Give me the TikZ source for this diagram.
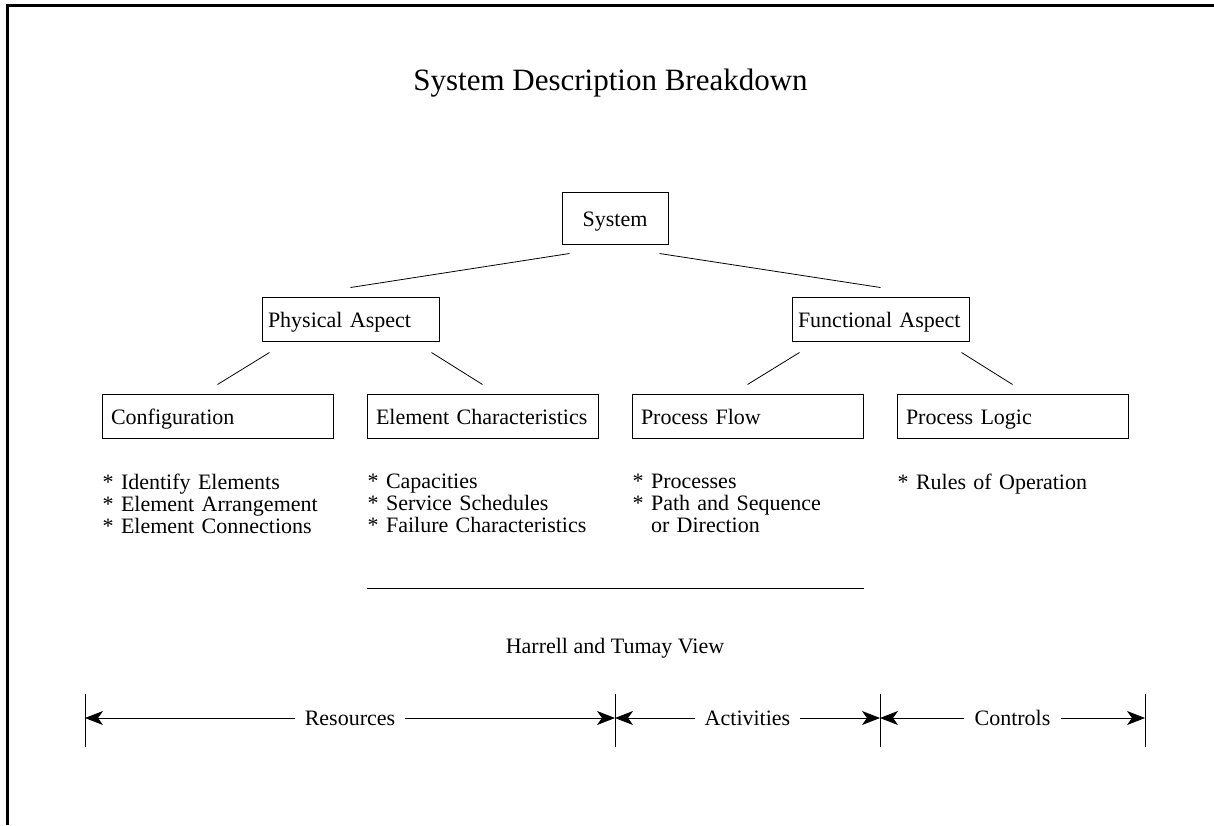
\documentclass[tikz,border=0pt]{standalone}
\usepackage{fontspec}
\setmainfont{Liberation Serif}
\usetikzlibrary{arrows.meta}

\begin{document}
\begin{tikzpicture}[x=1pt,y=-1pt,
  txt/.style={font=\fontsize{22}{22}\selectfont},
  topbox/.style={txt,draw,line width=1,minimum width=106,minimum height=52,inner sep=0,text height=16,text depth=0},
  aspectbox/.style={txt,draw,line width=1,text width=165,align=left,inner xsep=6,minimum height=44,inner ysep=0,text height=16,text depth=0},
  subbox/.style={txt,draw,line width=1,text width=213,align=left,inner xsep=9,minimum height=44,inner ysep=0,text height=16,text depth=0},
  notes/.style={txt,anchor=north west,text width=240,align=left,inner sep=0},
  branch/.style={line width=0.8},
  tick/.style={line width=0.8},
  span/.style={line width=0.8,-{Stealth[length=18,width=14,inset=5]}}]
\useasboundingbox (0,0) rectangle (1214,825);

%Frame
\draw [line width=3] (7.5,825) -- (7.5,5.5) -- (1214,5.5);

% Text Node
\node (title) at (610.5,83) [font=\fontsize{31}{31}\selectfont] {System Description Breakdown};

% Boxes
\node (sys) at (615,218) [topbox] {System};
\node (phys) at (350.5,319) [aspectbox] {Physical Aspect};
\node (func) at (880.5,319) [aspectbox] {Functional Aspect};
\node (conf) at (217.5,416) [subbox] {Configuration};
\node (elem) at (482.5,416) [subbox] {Element Characteristics};
\node (flow) at (747.5,416) [subbox] {Process Flow};
\node (logic) at (1012.5,416) [subbox] {Process Logic};

%Straight Lines
\draw [branch] ([xshift=8,yshift=-9]sys.south west) -- ([yshift=9]phys.north);
\draw [branch] ([xshift=-9,yshift=-9]sys.south east) -- ([yshift=9]func.north);
\draw [branch] ([xshift=8,yshift=-11]phys.south west) -- ([yshift=9]conf.north);
\draw [branch] ([xshift=-8,yshift=-11]phys.south east) -- ([yshift=9]elem.north);
\draw [branch] ([xshift=8,yshift=-11]func.south west) -- ([yshift=9]flow.north);
\draw [branch] ([xshift=-8,yshift=-11]func.south east) -- ([yshift=9]logic.north);

% Text Node
\node (confnotes) at ([xshift=1,yshift=-35]conf.south west) [notes] {{*} Identify Elements\\{*} Element Arrangement\\{*} Element Connections};
\node (elemnotes) at ([xshift=1,yshift=-35]elem.south west) [notes] {{*} Capacities\\{*} Service Schedules\\{*} Failure Characteristics};
\node (flownotes) at ([xshift=1,yshift=-35]flow.south west) [notes] {{*} Processes\\{*} Path and Sequence\\\hphantom{* }or Direction};
\node (logicnotes) at ([xshift=1,yshift=-35]logic.south west) [notes] {{*} Rules of Operation};

%Straight Lines
\draw [line width=1] ([yshift=-150]elem.south west) -- ([yshift=-150]flow.south east);

% Text Node
\node (view) at (615,648) [txt] {Harrell and Tumay View};

% Span row
\coordinate (m0) at (85,718);
\coordinate (m1) at (615,718);
\coordinate (m2) at (880,718);
\coordinate (m3) at (1145,718);
\foreach \m in {m0,m1,m2,m3}
  \draw [tick] ([yshift=24]\m) -- ([yshift=-29]\m);

\node (res) at (350,718) [txt,inner xsep=10] {Resources};
\node (act) at (747.5,718) [txt,inner xsep=10] {Activities};
\node (ctl) at (1012.5,718) [txt,inner xsep=10] {Controls};

\draw [span] (res.west) -- (res.west -| m0);
\draw [span] (res.east) -- (res.east -| m1);
\draw [span] (act.west) -- (act.west -| m1);
\draw [span] (act.east) -- (act.east -| m2);
\draw [span] (ctl.west) -- (ctl.west -| m2);
\draw [span] (ctl.east) -- (ctl.east -| m3);

\end{tikzpicture}
\end{document}
